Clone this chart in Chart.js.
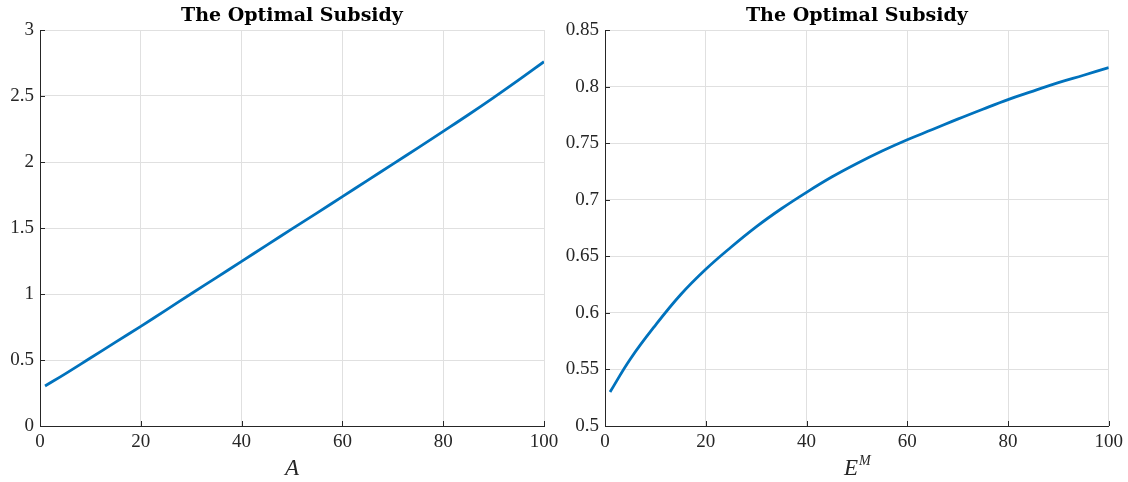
<!DOCTYPE html>
<html>
<head>
<meta charset="utf-8">
<script src="https://cdn.jsdelivr.net/npm/chart.js@4"></script>
<style>
  html, body { margin: 0; padding: 0; background: #ffffff; }
  #wrap { position: relative; width: 1128px; height: 482px; }
  .box { position: absolute; top: 0; height: 482px; width: 564px; }
  #b1 { left: 0; }
  #b2 { left: 564px; }
</style>
</head>
<body>
<div id="wrap">
  <div class="box" id="b1"><canvas id="c1"></canvas></div>
  <div class="box" id="b2"><canvas id="c2"></canvas></div>
</div>
<script>
// ---- data ----
const leftX  = [1, 5, 10, 15, 20, 25, 30, 35, 40, 45, 50, 55, 60, 65, 70, 75, 80, 85, 90, 95, 100];
const leftY  = [0.303, 0.395, 0.515, 0.635, 0.755, 0.878, 1.002, 1.124, 1.247, 1.370, 1.493, 1.615, 1.738, 1.861, 1.984, 2.107, 2.232, 2.358, 2.488, 2.622, 2.760];
const rightX = [1, 5, 10, 15, 20, 25, 30, 35, 40, 45, 50, 55, 60, 65, 70, 75, 80, 85, 90, 95, 100];
const rightY = [0.530, 0.559, 0.589, 0.616, 0.6385, 0.658, 0.676, 0.692, 0.7065, 0.720, 0.732, 0.743, 0.753, 0.762, 0.7712, 0.780, 0.7885, 0.796, 0.8035, 0.810, 0.8168];
const xTicks = [0, 20, 40, 60, 80, 100];
const leftYTicks = [0, 0.5, 1, 1.5, 2, 2.5, 3];
const rightYTicks = [0.5, 0.55, 0.6, 0.65, 0.7, 0.75, 0.8, 0.85];
const chartTitle = 'The Optimal Subsidy';

// ---- styles ----
const LINE_COLOR = '#0072BD';
const AXIS_COLOR = '#262626';
const GRID_COLOR = '#e0e0e0';
const TICK_FONT = { family: '"Liberation Serif", "DejaVu Serif", serif', size: 19 };

const fmt = v => String(+(+v).toFixed(2));

const decorPlugin = {
  id: 'decor',
  afterDraw(chart, args, opts) {
    const ctx = chart.ctx;
    const a = chart.chartArea;
    const xs = chart.scales.x, ys = chart.scales.y;
    ctx.save();
    // inward ticks
    ctx.strokeStyle = AXIS_COLOR;
    ctx.lineWidth = 1;
    ctx.beginPath();
    xs.ticks.forEach(t => {
      const px = Math.round(xs.getPixelForValue(t.value)) + 0.5;
      ctx.moveTo(px, a.bottom);
      ctx.lineTo(px, a.bottom - 5);
    });
    ys.ticks.forEach(t => {
      const py = Math.round(ys.getPixelForValue(t.value)) + 0.5;
      ctx.moveTo(a.left, py);
      ctx.lineTo(a.left + 5, py);
    });
    ctx.stroke();
    // title
    const cx = (a.left + a.right) / 2;
    ctx.fillStyle = '#000000';
    ctx.textAlign = 'center';
    ctx.textBaseline = 'alphabetic';
    ctx.font = 'bold 19px "DejaVu Serif", serif';
    ctx.fillText(chartTitle, cx, 21);
    // x label
    ctx.fillStyle = AXIS_COLOR;
    const mainFont = 'italic 23px "Liberation Serif", "DejaVu Serif", serif';
    const supFont = 'italic 14px "Liberation Serif", "DejaVu Serif", serif';
    ctx.font = mainFont;
    if (opts.sup) {
      const mainW = ctx.measureText(opts.label).width;
      ctx.font = supFont;
      const supW = ctx.measureText(opts.sup).width;
      const start = cx - (mainW + supW) / 2;
      ctx.textAlign = 'left';
      ctx.font = mainFont;
      ctx.fillText(opts.label, start, 475);
      ctx.font = supFont;
      ctx.fillText(opts.sup, start + mainW + 1, 465);
    } else {
      ctx.fillText(opts.label, cx, 475);
    }
    ctx.restore();
  }
};

function makeChart(id, xs, ysData, yTicks, yWidth, rightPad, label, sup) {
  const yMin = yTicks[0], yMax = yTicks[yTicks.length - 1];
  return new Chart(document.getElementById(id), {
    type: 'line',
    data: {
      datasets: [{
        data: xs.map((x, i) => ({ x: x, y: ysData[i] })),
        borderColor: LINE_COLOR,
        borderWidth: 2.8,
        pointRadius: 0,
        fill: false,
        tension: 0.4
      }]
    },
    options: {
      responsive: true,
      maintainAspectRatio: false,
      animation: false,
      events: [],
      layout: { padding: { top: 30, right: rightPad, left: 0, bottom: 0 } },
      plugins: {
        legend: { display: false },
        title: { display: false },
        tooltip: { enabled: false },
        decor: { label: label, sup: sup }
      },
      scales: {
        x: {
          type: 'linear',
          min: xTicks[0], max: xTicks[xTicks.length - 1],
          afterBuildTicks: s => { s.ticks = xTicks.map(v => ({ value: v })); },
          afterFit: s => { s.height = 56; },
          grid: { color: GRID_COLOR, drawTicks: false, lineWidth: 1 },
          border: { color: AXIS_COLOR, width: 1 },
          ticks: { color: AXIS_COLOR, font: TICK_FONT, padding: 5, maxRotation: 0, callback: v => fmt(v) }
        },
        y: {
          type: 'linear',
          min: yMin, max: yMax,
          afterBuildTicks: s => { s.ticks = yTicks.map(v => ({ value: v })); },
          afterFit: s => { s.width = yWidth; },
          grid: { color: GRID_COLOR, drawTicks: false, lineWidth: 1 },
          border: { color: AXIS_COLOR, width: 1 },
          ticks: { color: AXIS_COLOR, font: TICK_FONT, padding: 6, callback: v => fmt(v) }
        }
      }
    },
    plugins: [decorPlugin]
  });
}

makeChart('c1', leftX, leftY, leftYTicks, 40, 20, 'A', null);
makeChart('c2', rightX, rightY, rightYTicks, 41, 18, 'E', 'M');
</script>
</body>
</html>
